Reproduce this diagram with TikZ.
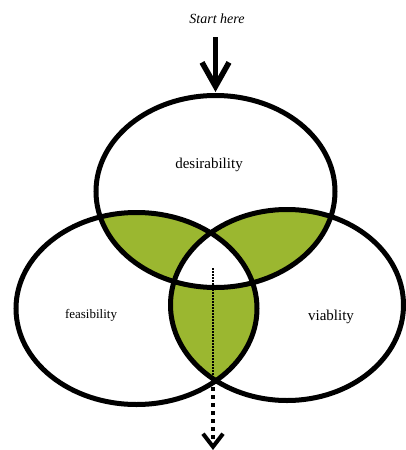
\documentclass[tikz,border=0pt]{standalone}
\usepackage{fontspec}
\setmainfont{Liberation Serif}
\usetikzlibrary{arrows.meta,positioning}
\definecolor{leafgreen}{RGB}{155,183,48}
\newcommand{\topring}{(215.5,191.5) ellipse [x radius=119.5, y radius=96]}
\newcommand{\leftring}{(136.5,308.5) ellipse [x radius=120.5, y radius=96]}
\newcommand{\rightring}{(287,305) ellipse [x radius=116.5, y radius=95.5]}

\begin{document}
\begin{tikzpicture}[x=1pt, y=-1pt, ring/.style={line width=5pt}, label node/.style={inner sep=0pt,font=\fontsize{15}{18}\selectfont}]
\useasboundingbox (0,0) rectangle (406,450);
% overlaps
\begin{scope}
\clip \topring;
\fill[leafgreen] \leftring;
\fill[leafgreen] \rightring;
\end{scope}
\begin{scope}
\clip \leftring;
\fill[leafgreen] \rightring;
\end{scope}
\begin{scope}
\clip \topring;
\clip \leftring;
\fill[white] \rightring;
\end{scope}
\begin{scope}[ring]
\draw \topring;
\draw \leftring;
\draw \rightring;
\end{scope}
\begin{scope}
\node[label node, font=\fontsize{14}{16}\selectfont\itshape] (start) at (217,19) {Start here};
\node[label node] (desir) at (209,165) {desirability};
\node[label node, font=\fontsize{13}{16}\selectfont] (feas) at (91,315) {feasibility};
\node[label node] (viab) at (331,317) {viablity};
\end{scope}
\coordinate (arrowTail) at (215.5,37);
\coordinate (desirTop) at (215.5,92);
\coordinate (coreTop) at (213,268);
\coordinate (lensBottom) at (213,379);
\coordinate (arrowEnd) at (213,450);
\draw[line width=5.5pt, -{Straight Barb[length=24pt,width=27pt]}] (arrowTail) -- (desirTop);
\draw[line width=1.5pt, dash pattern=on 1.5pt off 1.5pt] (coreTop) -- (lensBottom);
\draw[line width=4pt, dash pattern=on 4pt off 4pt, -{Straight Barb[length=13pt,width=20pt]}] (lensBottom) -- (arrowEnd);
\end{tikzpicture}
\end{document}
